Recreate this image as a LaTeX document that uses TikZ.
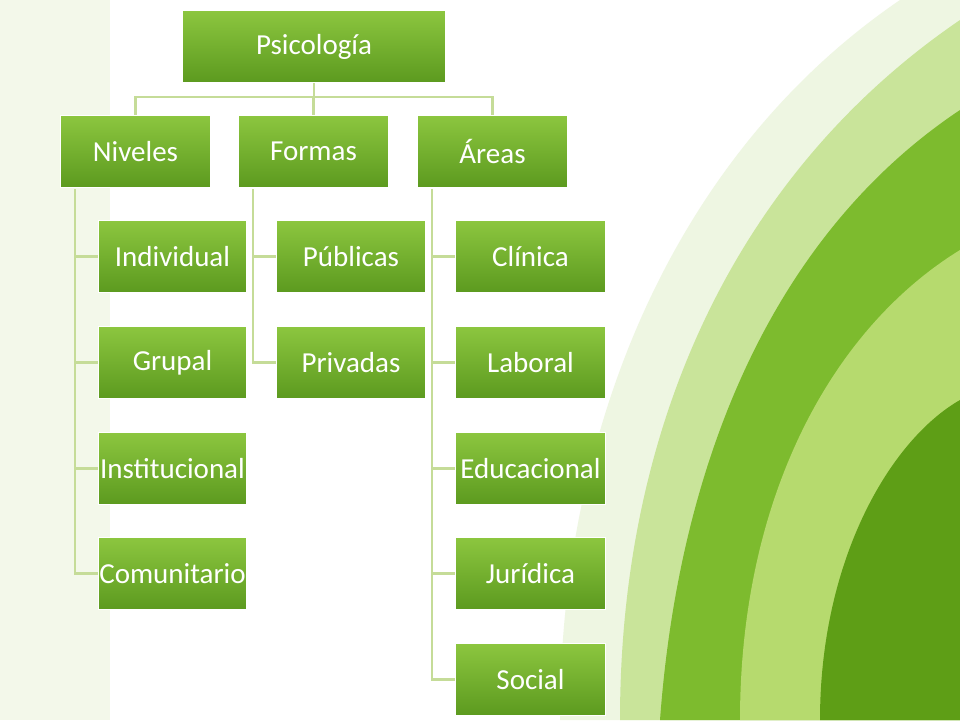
\documentclass[tikz,border=0pt]{standalone}
\usepackage{fontspec}
\setmainfont{Carlito}
\begin{document}
\begin{tikzpicture}[x=1pt,y=-1pt,
  box/.style={draw=white,line width=1pt,top color=boxtop,bottom color=boxbot,text=white,font=\fontsize{29}{32}\selectfont,inner sep=0pt,anchor=north west},
  lnk/.style={draw=linkc,line width=2.2pt}]
\definecolor{boxtop}{HTML}{8CC63F}
\definecolor{boxbot}{HTML}{5C9A1F}
\definecolor{linkc}{HTML}{C5DC98}
\definecolor{sw1}{HTML}{EEF6E2}
\definecolor{sw2}{HTML}{C9E49A}
\definecolor{sw3}{HTML}{7DBB2E}
\definecolor{sw4}{HTML}{B6DA6E}
\definecolor{sw5}{HTML}{5E9E16}
\useasboundingbox (0,0) rectangle (960,720);
\fill[white] (0,0) rectangle (960,720);
% background swoosh
\fill[sw1] (560,720) .. controls (560,420) and (680,150) .. (900,0) -- (960,0) -- (960,720) -- cycle;
\fill[sw2] (620,720) .. controls (620,420) and (740,170) .. (960,20) -- (960,720) -- cycle;
\fill[sw3] (660,720) .. controls (680,450) and (780,230) .. (960,110) -- (960,720) -- cycle;
\fill[sw4] (740,720) .. controls (740,500) and (830,330) .. (960,250) -- (960,720) -- cycle;
\fill[sw5] (820,720) .. controls (820,560) and (890,440) .. (960,400) -- (960,720) -- cycle;
\fill[sw1,opacity=0.7] (0,0) rectangle (110,720);
% nodes
\node[box,minimum width=263,minimum height=72] (p) at (182,10) {Psicología};
\node[box,minimum width=150,minimum height=72] (n) at (60,115) {Niveles};
\node[box,minimum width=150,minimum height=72] (f) at (238,115) {Formas};
\node[box,minimum width=150,minimum height=72] (a) at (417,115) {Áreas};
\foreach \name/\txt/\y in {n1/Individual/220,n2/Grupal/326,n3/Institucional/432,n4/Comunitario/537}
  \node[box,minimum width=148,minimum height=72] (\name) at (98,\y) {\txt};
\foreach \name/\txt/\y in {f1/Públicas/220,f2/Privadas/326}
  \node[box,minimum width=149,minimum height=72] (\name) at (276,\y) {\txt};
\foreach \name/\txt/\y in {a1/Clínica/220,a2/Laboral/326,a3/Educacional/432,a4/Jurídica/537,a5/Social/643}
  \node[box,minimum width=150,minimum height=72] (\name) at (455,\y) {\txt};
% connectors
\coordinate (bus) at (0,97);
\draw[lnk] (p.south) -- (p.south |- bus) -| (n.north);
\draw[lnk] (p.south |- bus) -| (a.north);
\draw[lnk] (p.south |- bus) -| (f.north);
\foreach \pp/\kids in {n/{n1,n2,n3,n4},f/{f1,f2},a/{a1,a2,a3,a4,a5}}
  \foreach \k in \kids
    \draw[lnk] ([xshift=15pt,yshift=-1pt]\pp.south west) |- (\k.west);
\end{tikzpicture}
\end{document}
